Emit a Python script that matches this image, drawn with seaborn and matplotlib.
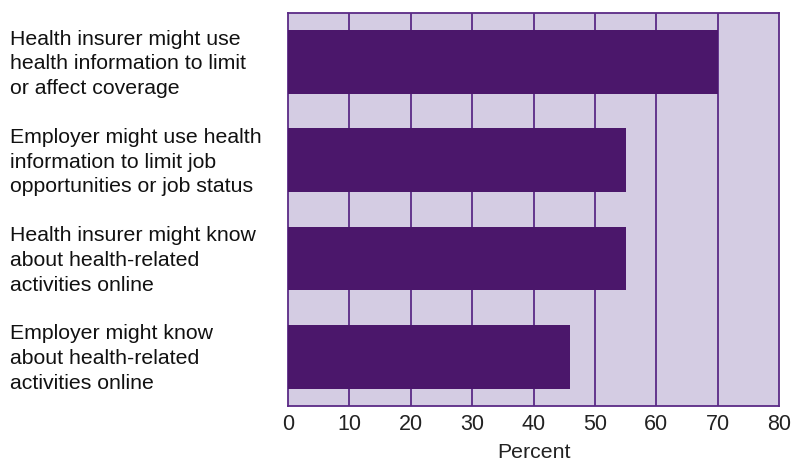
import pandas as pd
import matplotlib.pyplot as plt
import matplotlib.transforms as mtransforms
import seaborn as sns

categories = [
    "Health insurer might use\nhealth information to limit\nor affect coverage",
    "Employer might use health\ninformation to limit job\nopportunities or job status",
    "Health insurer might know\nabout health-related\nactivities online",
    "Employer might know\nabout health-related\nactivities online",
]
percent = [70, 55, 55, 46]
x_ticks = [0, 10, 20, 30, 40, 50, 60, 70, 80]

bar_color = "#4b176b"
bg_color = "#d4cce3"
line_color = "#5b2a86"

df = pd.DataFrame({"label": categories, "percent": percent})

sns.set_style("white")
plt.rcParams['font.family'] = ['Liberation Sans', 'DejaVu Sans']

fig = plt.figure(figsize=(7.91, 4.64), dpi=100)
ax = fig.add_axes([0.364, 0.123, 0.621, 0.847])
ax.set_facecolor(bg_color)

sns.barplot(data=df, x="percent", y="label", orient="h", color=bar_color,
            saturation=1, width=0.65, linewidth=0, ax=ax, zorder=3)

ax.set_xlim(0, 80)
ax.set_ylim(3.5, -0.5)
ax.set_xticks(x_ticks)
ax.set_xticklabels([str(t) for t in x_ticks], fontsize=15.5, color="#222222")
for t in x_ticks[1:-1]:
    ax.axvline(t, color=line_color, lw=1.3, zorder=2)

ax.tick_params(axis="both", length=0)
ax.tick_params(axis="x", pad=5)
ax.tick_params(axis="y", pad=200)
shift = mtransforms.ScaledTranslation(0, 4 / 100, fig.dpi_scale_trans)
for lbl in ax.get_yticklabels():
    lbl.set_horizontalalignment("left")
    lbl.set_multialignment("left")
    lbl.set_fontsize(15.3)
    lbl.set_color("#111111")
    lbl.set_linespacing(1.38)
    lbl.set_transform(lbl.get_transform() + shift)

ax.set_ylabel("")
ax.set_xlabel("Percent", fontsize=15.3, color="#222222", labelpad=6)

for s in ax.spines.values():
    s.set_visible(True)
    s.set_color(line_color)
    s.set_linewidth(1.3)

fig.savefig("out.png", dpi=100)
